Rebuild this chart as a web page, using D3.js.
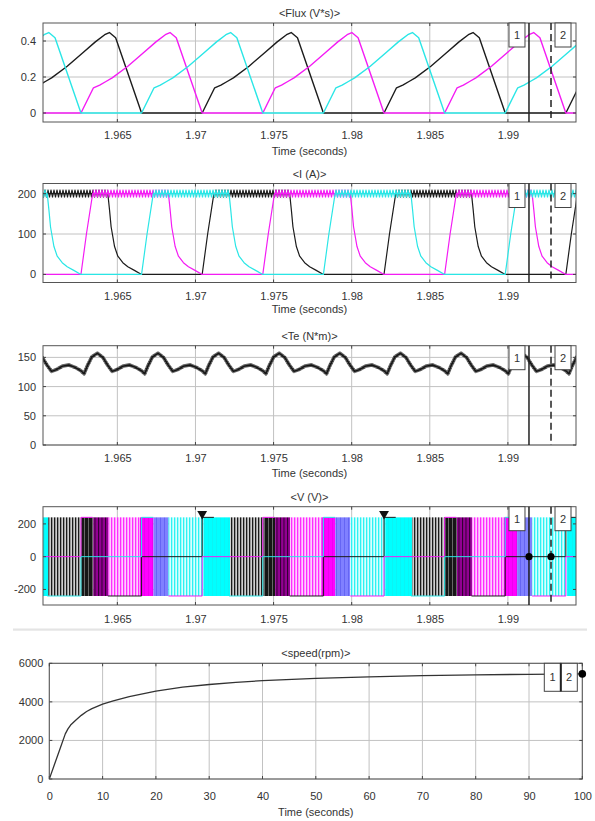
<!DOCTYPE html>
<html>
<head>
<meta charset="utf-8">
<script src="https://cdn.jsdelivr.net/npm/d3@7"></script>
<style>
body{margin:0;background:#fff;}
svg{display:block;}
</style>
</head>
<body>
<svg id="chart" width="595" height="821"></svg>
<script>
// phase start times (s), read where each flux trace leaves zero
var blackStarts = [1.95879, 1.97043, 1.98207, 1.99371];
var magentaStarts = [1.95103, 1.96267, 1.97431, 1.98595];
var cyanStarts = [1.95491, 1.96655, 1.97819, 1.98983];

// one stroke of a phase, time measured from its start
var fluxCycle = [[0,0],[0.0008,0.14],[0.0012,0.155],[0.0016,0.175],[0.002,0.195],[0.003,0.26],[0.004,0.335],[0.0048,0.395],[0.0054,0.435],[0.0057,0.447],[0.0061,0.418],[0.00776,0]];
var currentCycle = [[0,0],[0.00035,100],[0.00075,200],[0.0056,200],[0.00571,159],[0.00581,118],[0.00603,69],[0.00624,45],[0.00656,29],[0.00688,19],[0.0073,10],[0.00776,0]];
var chopSpan = [0.00075, 0.0056];
var torqueCycle = [[0,127],[0.0002,122],[0.0004,135],[0.0007,151],[0.00105,157],[0.0014,150],[0.0017,137],[0.002,126],[0.0023,129],[0.0027,135],[0.0031,137],[0.0035,133]];
var voltCycle = [[0,0],[0,240],[0.00075,240],[0.00075,null],[0.0056,null],[0.0056,-240],[0.00776,-240],[0.00776,0]];
// switching blocks of the voltage trace, offsets from a magenta start
var voltZones = [[-0.00209,0.00004,"blackStripe"],[0.00004,0.00079,"blackDark"],[0.00079,0.00175,"purple"],[0.00175,0.00378,"magentaStripe"],[0.00378,0.00464,"magentaSolid"],[0.00464,0.0056,"blue"],[0.0056,0.00784,"cyanStripe"],[0.00784,0.00955,"cyanSolid"]];
var voltLevel = 240;

var speedTime = [0,1,2,3,3.5,4,5,6,7,8,10,12,15,20,25,30,35,40,50,60,70,80,90,100];
var speedRpm = [0,780,1560,2340,2600,2800,3060,3300,3500,3650,3880,4050,4270,4560,4760,4900,5010,5100,5220,5300,5360,5400,5430,5450];

var timeTicks = [1.965,1.97,1.975,1.98,1.985,1.99];
var timeDomain = [1.96024, 1.99436];
var speedTicks = [0,10,20,30,40,50,60,70,80,90,100];
var cursors = [1.99135, 1.99276];

var font = '"Liberation Sans", Arial, Helvetica, sans-serif';
var col = {black:"#1c1c1c", magenta:"#f41cf4", cyan:"#2ae6e6"};

var svg = d3.select("#chart");
var defs = svg.append("defs");

function panel(o){
	var x = d3.scaleLinear().domain(o.xDomain).range([o.left, o.right]);
	var y = d3.scaleLinear().domain(o.yDomain).range([o.bottom, o.top]);
	var g = svg.append("g").attr("font-family", font);
	g.selectAll("line.gx").data(o.xTicks).join("line").attr("class","gx")
		.attr("x1", x).attr("x2", x).attr("y1", o.top).attr("y2", o.bottom)
		.attr("stroke", "#c2c2c2");
	g.selectAll("line.gy").data(o.yTicks).join("line").attr("class","gy")
		.attr("y1", y).attr("y2", y).attr("x1", o.left).attr("x2", o.right)
		.attr("stroke", "#c2c2c2");
	defs.append("clipPath").attr("id", "clip-" + o.name).append("rect")
		.attr("x", o.left).attr("y", o.top)
		.attr("width", o.right - o.left).attr("height", o.bottom - o.top);
	var plot = g.append("g").attr("clip-path", "url(#clip-" + o.name + ")");
	var frame = g.append("g");
	frame.append("rect").attr("x", o.left).attr("y", o.top)
		.attr("width", o.right - o.left).attr("height", o.bottom - o.top)
		.attr("fill", "none").attr("stroke", "#555");
	// inward ticks on all four sides
	o.xTicks.forEach(function(t){
		frame.append("line").attr("x1", x(t)).attr("x2", x(t)).attr("y1", o.bottom).attr("y2", o.bottom - 3).attr("stroke", "#444");
		frame.append("line").attr("x1", x(t)).attr("x2", x(t)).attr("y1", o.top).attr("y2", o.top + 3).attr("stroke", "#444");
	});
	o.yTicks.forEach(function(t){
		frame.append("line").attr("y1", y(t)).attr("y2", y(t)).attr("x1", o.left).attr("x2", o.left + 3).attr("stroke", "#444");
		frame.append("line").attr("y1", y(t)).attr("y2", y(t)).attr("x1", o.right).attr("x2", o.right - 3).attr("stroke", "#444");
	});
	frame.append("g").attr("transform", "translate(0," + o.bottom + ")")
		.call(d3.axisBottom(x).tickValues(o.xTicks).tickSize(0).tickPadding(o.xPad).tickFormat(String))
		.call(function(a){ a.select(".domain").remove(); })
		.attr("font-size", 11).attr("font-family", font)
		.selectAll("text").attr("fill", "#333");
	frame.append("g").attr("transform", "translate(" + o.left + ",0)")
		.call(d3.axisLeft(y).tickValues(o.yTicks).tickSize(0).tickPadding(o.yPad).tickFormat(String))
		.call(function(a){ a.select(".domain").remove(); })
		.attr("font-size", 11).attr("font-family", font)
		.selectAll("text").attr("fill", "#333");
	frame.append("text").attr("x", (o.left + o.right) / 2).attr("y", o.top - 6)
		.attr("text-anchor", "middle").attr("font-size", 11).attr("fill", "#333").text(o.title);
	if(o.xLabel){
		frame.append("text").attr("x", (o.left + o.right) / 2).attr("y", o.bottom + o.labelOff)
			.attr("text-anchor", "middle").attr("font-size", 11).attr("fill", "#333").text(o.xLabel);
	}
	return {x:x, y:y, plot:plot, frame:frame, o:o};
}

function phaseSeries(starts, cycle){
	var pts = [];
	starts.forEach(function(s){
		cycle.forEach(function(c){ pts.push([s + c[0], c[1]]); });
	});
	var last = pts[pts.length - 1];
	if(last[0] < timeDomain[1] && last[1] !== null) pts.push([timeDomain[1], last[1]]);
	return pts;
}

function drawLine(p, pts, color, width){
	var line = d3.line().defined(function(d){ return d[1] !== null; })
		.x(function(d){ return p.x(d[0]); }).y(function(d){ return p.y(d[1]); });
	return p.plot.append("path").attr("d", line(pts)).attr("fill", "none")
		.attr("stroke", color).attr("stroke-width", width).attr("stroke-linejoin", "round");
}

function cursorMarks(p){
	var o = p.o, f = p.frame;
	f.append("line").attr("x1", p.x(cursors[0])).attr("x2", p.x(cursors[0]))
		.attr("y1", o.top).attr("y2", o.bottom).attr("stroke", "#222").attr("stroke-width", 1.5);
	f.append("line").attr("x1", p.x(cursors[1])).attr("x2", p.x(cursors[1]))
		.attr("y1", o.top).attr("y2", o.bottom).attr("stroke", "#222").attr("stroke-width", 1.5)
		.attr("stroke-dasharray", "7,4");
	[[p.x(cursors[0]) - 20, "1"], [p.x(cursors[1]) + 4, "2"]].forEach(function(b){
		f.append("rect").attr("x", b[0]).attr("y", o.top).attr("width", 16).attr("height", 24)
			.attr("fill", "#fff").attr("stroke", "#444");
		f.append("text").attr("x", b[0] + 8).attr("y", o.top + 16).attr("text-anchor", "middle")
			.attr("font-size", 11).attr("fill", "#333").text(b[1]);
	});
}

var phases = [[blackStarts, col.black, "black"], [magentaStarts, col.magenta, "magenta"], [cyanStarts, col.cyan, "cyan"]];

// ---- Flux
var pF = panel({name:"flux", left:43, right:576, top:23, bottom:122, xDomain:timeDomain, yDomain:[-0.05,0.5],
	xTicks:timeTicks, yTicks:[0,0.2,0.4], xPad:9.5, yPad:7, title:"<Flux (V*s)>", xLabel:"Time (seconds)", labelOff:33});
phases.forEach(function(ph){ drawLine(pF, phaseSeries(ph[0], fluxCycle), ph[1], 1.4); });
cursorMarks(pF);

// ---- Current
var pI = panel({name:"cur", left:43, right:576, top:183.5, bottom:282.5, xDomain:timeDomain, yDomain:[-20,225],
	xTicks:timeTicks, yTicks:[0,100,200], xPad:9.5, yPad:7, title:"<I (A)>", xLabel:"Time (seconds)", labelOff:30});
var bandH = 9, bandTop = pI.y(200) - bandH / 2;
phases.forEach(function(ph){
	var p = defs.append("pattern").attr("id", "zig-" + ph[2]).attr("patternUnits", "userSpaceOnUse")
		.attr("x", 0).attr("y", bandTop).attr("width", 3).attr("height", bandH);
	p.append("path").attr("d", "M0,0.6L1.5," + (bandH - 0.6) + "L3,0.6").attr("fill", "none")
		.attr("stroke", ph[1]).attr("stroke-width", 1.1);
});
phases.forEach(function(ph){
	drawLine(pI, phaseSeries(ph[0], currentCycle), ph[1], 1.2);
	pI.plot.selectAll(null).data(ph[0]).join("rect")
		.attr("x", function(s){ return pI.x(s + chopSpan[0]); })
		.attr("width", function(s){ return pI.x(s + chopSpan[1]) - pI.x(s + chopSpan[0]); })
		.attr("y", bandTop).attr("height", bandH)
		.attr("fill", "url(#zig-" + ph[2] + ")");
});
cursorMarks(pI);

// ---- Torque
var pT = panel({name:"te", left:43, right:576, top:345.7, bottom:445, xDomain:timeDomain, yDomain:[0,170],
	xTicks:timeTicks, yTicks:[0,50,100,150], xPad:9, yPad:7, title:"<Te (N*m)>", xLabel:"Time (seconds)", labelOff:32});
var torqueStarts = blackStarts.concat(magentaStarts, cyanStarts).sort(d3.ascending);
var fuzz = defs.append("pattern").attr("id", "fuzz").attr("patternUnits", "userSpaceOnUse")
	.attr("width", 1.6).attr("height", 2.4);
fuzz.append("path").attr("d", "M0,0L0.8,2.4L1.6,0").attr("fill", "none").attr("stroke", "#222").attr("stroke-width", 0.7);
var teSeries = phaseSeries(torqueStarts, torqueCycle);
drawLine(pT, teSeries, "url(#fuzz)", 3.6);
drawLine(pT, teSeries, "#151515", 1.4);
cursorMarks(pT);

// ---- Voltage
var pV = panel({name:"volt", left:43, right:576, top:506.7, bottom:605, xDomain:timeDomain, yDomain:[-295,305],
	xTicks:timeTicks, yTicks:[-200,0,200], xPad:10, yPad:7, title:"<V (V)>"});
var zoneFills = {
	blackStripe:[3, "#cfcfcf", "#1a1a1a", 1.3],
	blackDark:[4, "#161616", "#707070", 0.9],
	purple:[3.5, "#930093", "#2c002c", 1.0],
	magentaStripe:[3, "#ffcfff", "#ff2cff", 1.3],
	magentaSolid:[4, "#ff00ff", "#e400e4", 0.6],
	blue:[4, "#8080ff", "#5e5ef2", 0.8],
	cyanStripe:[3, "#d8ffff", "#2cf2f2", 1.3],
	cyanSolid:[4, "#00ffff", "#12eeee", 0.6]
};
Object.keys(zoneFills).forEach(function(k){
	var z = zoneFills[k];
	var p = defs.append("pattern").attr("id", "v-" + k).attr("patternUnits", "userSpaceOnUse")
		.attr("width", z[0]).attr("height", 10);
	p.append("rect").attr("width", z[0]).attr("height", 10).attr("fill", z[1]);
	p.append("rect").attr("width", z[3]).attr("height", 10).attr("fill", z[2]);
});
magentaStarts.forEach(function(s){
	pV.plot.selectAll(null).data(voltZones).join("rect")
		.attr("x", function(z){ return pV.x(s + z[0]); })
		.attr("width", function(z){ return pV.x(s + z[1]) - pV.x(s + z[0]); })
		.attr("y", pV.y(voltLevel)).attr("height", pV.y(-voltLevel) - pV.y(voltLevel))
		.attr("fill", function(z){ return "url(#v-" + z[2] + ")"; });
});
phases.forEach(function(ph){ drawLine(pV, phaseSeries(ph[0], voltCycle), ph[1], 1); });
pV.frame.selectAll(null).data(blackStarts.filter(function(s){ return s > timeDomain[0] && s < timeDomain[1]; }))
	.join("path").attr("d", d3.symbol(d3.symbolTriangle, 42)())
	.attr("transform", function(s){ return "translate(" + pV.x(s) + "," + (pV.y(voltLevel) - 3.5) + ") rotate(180)"; })
	.attr("fill", "#111");
cursorMarks(pV);
pV.frame.selectAll(null).data(cursors).join("circle")
	.attr("cx", function(c){ return pV.x(c); }).attr("cy", pV.y(0)).attr("r", 3.6).attr("fill", "#000");

// separator
svg.append("rect").attr("x", 13).attr("y", 628.5).attr("width", 574).attr("height", 2.2).attr("fill", "#e4e4e4");

// ---- Speed
var pS = panel({name:"speed", left:49.3, right:582.3, top:663.3, bottom:779, xDomain:[0,100], yDomain:[0,6000],
	xTicks:speedTicks, yTicks:[0,2000,4000,6000], xPad:13, yPad:6, title:"<speed(rpm)>", xLabel:"Time (seconds)", labelOff:37});
drawLine(pS, speedTime.map(function(t, i){ return [t, speedRpm[i]]; }), "#333", 1.3);
[[pS.o.right - 38, "1"], [pS.o.right - 21.5, "2"]].forEach(function(b){
	pS.frame.append("rect").attr("x", b[0]).attr("y", pS.o.top).attr("width", 16.5).attr("height", 28)
		.attr("fill", "#fff").attr("stroke", "#444");
	pS.frame.append("text").attr("x", b[0] + 8.2).attr("y", pS.o.top + 18).attr("text-anchor", "middle")
		.attr("font-size", 11).attr("fill", "#333").attr("font-family", font).text(b[1]);
});
pS.frame.append("line").attr("x1", pS.o.right - 21.5).attr("x2", pS.o.right - 21.5)
	.attr("y1", pS.o.top).attr("y2", pS.o.top + 28).attr("stroke", "#222").attr("stroke-width", 2);
pS.frame.append("circle").attr("cx", pS.x(speedTime[speedTime.length - 1]))
	.attr("cy", pS.y(speedRpm[speedRpm.length - 1])).attr("r", 3.8).attr("fill", "#000");
</script>
</body>
</html>
